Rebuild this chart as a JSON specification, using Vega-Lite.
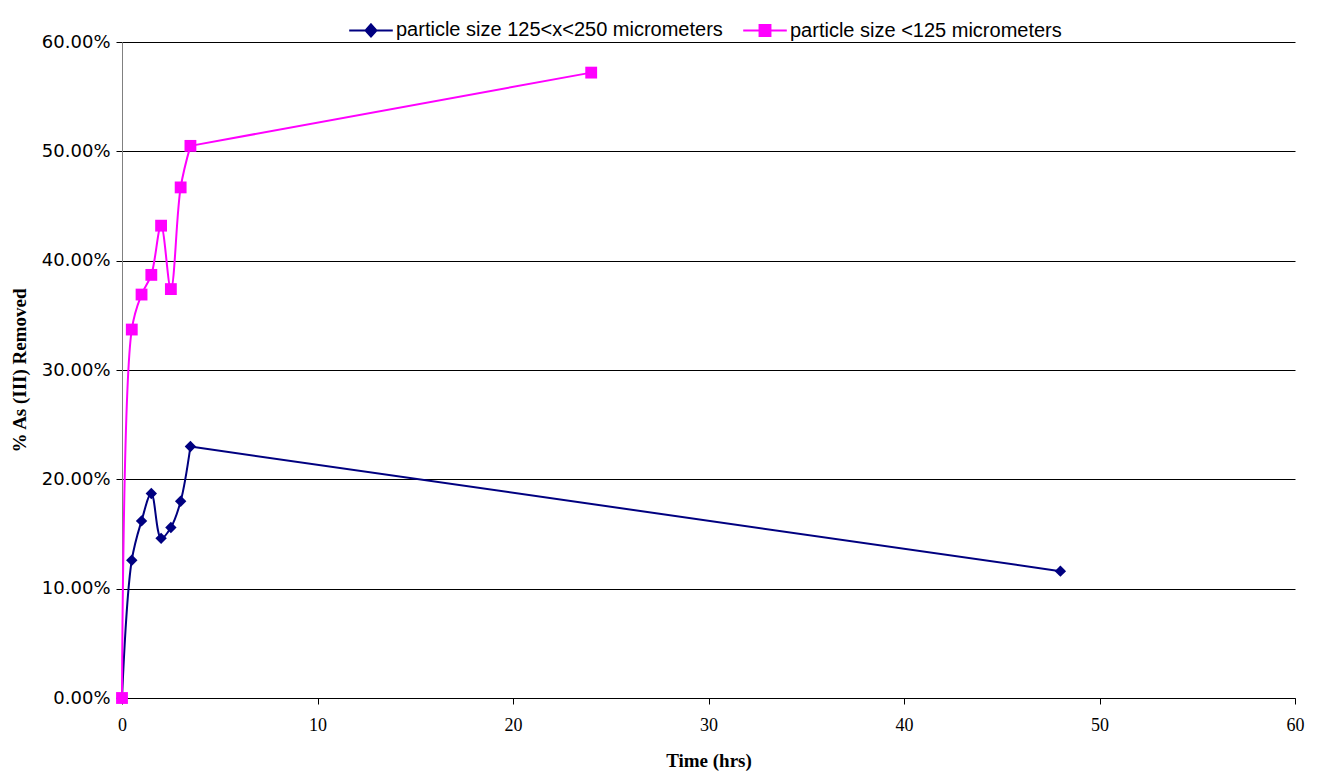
{
  "$schema": "https://vega.github.io/schema/vega-lite/v6.json",
  "width": 1173,
  "height": 656,
  "autosize": {"type": "none"},
  "padding": {"left": 122, "top": 42, "right": 27, "bottom": 74},
  "background": "white",
  "config": {"view": {"stroke": null}},
  "data": {
    "values": [
      {"series": "particle size 125<x<250 micrometers", "time": 0, "pct": 0},
      {"series": "particle size 125<x<250 micrometers", "time": 0.5, "pct": 0.126},
      {"series": "particle size 125<x<250 micrometers", "time": 1, "pct": 0.162},
      {"series": "particle size 125<x<250 micrometers", "time": 1.5, "pct": 0.187},
      {"series": "particle size 125<x<250 micrometers", "time": 2, "pct": 0.146},
      {"series": "particle size 125<x<250 micrometers", "time": 2.5, "pct": 0.156},
      {"series": "particle size 125<x<250 micrometers", "time": 3, "pct": 0.180},
      {"series": "particle size 125<x<250 micrometers", "time": 3.5, "pct": 0.230},
      {"series": "particle size 125<x<250 micrometers", "time": 48, "pct": 0.116},
      {"series": "particle size <125 micrometers", "time": 0, "pct": 0},
      {"series": "particle size <125 micrometers", "time": 0.5, "pct": 0.337},
      {"series": "particle size <125 micrometers", "time": 1, "pct": 0.369},
      {"series": "particle size <125 micrometers", "time": 1.5, "pct": 0.387},
      {"series": "particle size <125 micrometers", "time": 2, "pct": 0.432},
      {"series": "particle size <125 micrometers", "time": 2.5, "pct": 0.374},
      {"series": "particle size <125 micrometers", "time": 3, "pct": 0.467},
      {"series": "particle size <125 micrometers", "time": 3.5, "pct": 0.505},
      {"series": "particle size <125 micrometers", "time": 24, "pct": 0.572}
    ]
  },
  "encoding": {
    "x": {
      "field": "time", "type": "quantitative",
      "scale": {"domain": [0, 60], "nice": false, "zero": true},
      "axis": {
        "values": [0, 10, 20, 30, 40, 50, 60],
        "title": "Time (hrs)",
        "titleFont": "Liberation Serif", "titleFontSize": 19, "titleFontWeight": "bold", "titleColor": "black",
        "titlePadding": 17,
        "labelFont": "Liberation Sans Narrow", "labelFontSize": 18, "labelColor": "black", "labelPadding": 12,
        "labelFlush": false,
        "domainColor": "black", "tickColor": "black", "tickSize": 6,
        "grid": false
      }
    },
    "y": {
      "field": "pct", "type": "quantitative",
      "scale": {"domain": [0, 0.6], "nice": false},
      "axis": {
        "values": [0, 0.1, 0.2, 0.3, 0.4, 0.5, 0.6],
        "format": ".2%",
        "title": "% As (III) Removed",
        "titleFont": "Liberation Serif", "titleFontSize": 19, "titleFontWeight": "bold", "titleColor": "black",
        "titlePadding": 12,
        "labelFont": "DejaVu Sans", "labelFontSize": 18, "labelColor": "black", "labelPadding": 6,
        "labelFlush": false,
        "domainColor": "#808080", "tickColor": "black", "tickSize": 6,
        "grid": true, "gridColor": "black", "gridWidth": 1
      }
    }
  },
  "layer": [
    {
      "transform": [{"filter": "datum.time <= 3.5"}],
      "mark": {"type": "line", "interpolate": "catmull-rom", "strokeWidth": 2},
      "encoding": {
        "color": {
          "field": "series", "type": "nominal",
          "scale": {"domain": ["particle size 125<x<250 micrometers", "particle size <125 micrometers"], "range": ["#000080", "#FF00FF"]},
          "legend": {
            "title": null,
            "orient": "none",
            "legendX": 226,
            "legendY": -35,
            "direction": "horizontal",
            "labelFont": "Liberation Sans", "labelFontSize": 20, "labelColor": "black",
            "labelLimit": 0,
            "symbolSize": 1900,
            "symbolStrokeWidth": 2,
            "labelOffset": 2,
            "columnPadding": 16,
            "encode": {
              "symbols": {
                "update": {
                  "shape": {"signal": "datum.value === 'particle size <125 micrometers' ? 'M-1,0H1M-0.25,-0.25H0.25V0.25H-0.25Z' : 'M-1,0H1M0,-0.28L0.25,0L0,0.28L-0.25,0Z'"},
                  "fill": {"signal": "datum.value === 'particle size <125 micrometers' ? '#FF00FF' : '#000080'"},
                  "stroke": {"signal": "datum.value === 'particle size <125 micrometers' ? '#FF00FF' : '#000080'"},
                  "strokeWidth": {"value": 2}
                }
              }
            }
          }
        }
      }
    },
    {
      "transform": [{"filter": "datum.time >= 3.5"}],
      "mark": {"type": "line", "interpolate": "linear", "strokeWidth": 2},
      "encoding": {
        "color": {"field": "series", "type": "nominal", "legend": null}
      }
    },
    {
      "transform": [{"filter": "datum.series === 'particle size 125<x<250 micrometers'"}],
      "mark": {"type": "point", "filled": true, "opacity": 1, "shape": "diamond", "size": 130, "color": "#000080"},
      "encoding": {}
    },
    {
      "transform": [{"filter": "datum.series === 'particle size <125 micrometers'"}],
      "mark": {"type": "point", "filled": true, "opacity": 1, "shape": "square", "size": 140, "color": "#FF00FF"},
      "encoding": {}
    }
  ]
}
